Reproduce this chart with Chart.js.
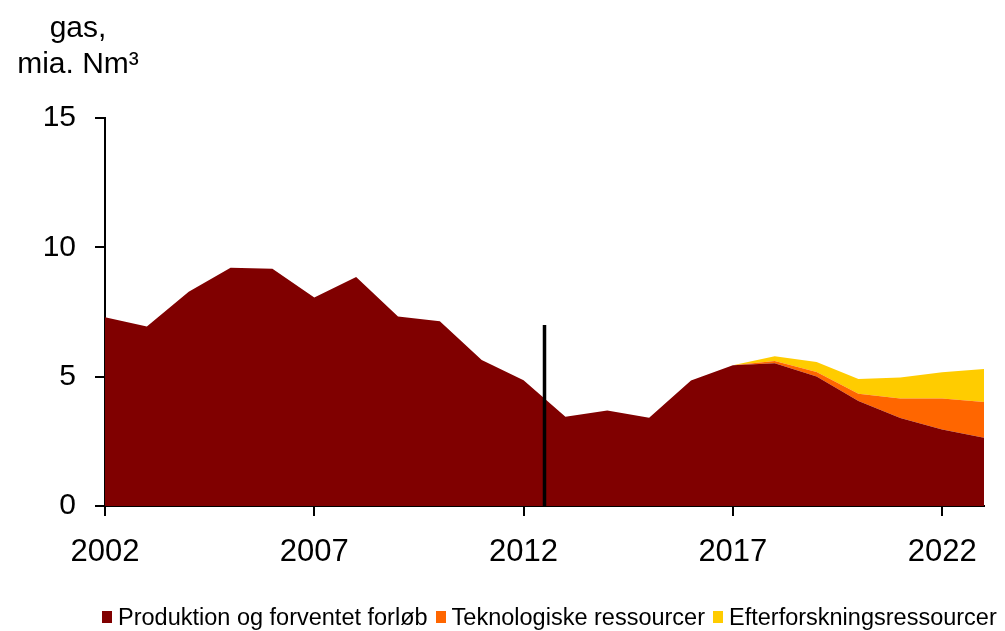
<!DOCTYPE html>
<html lang="da">
<head>
    <meta charset="UTF-8">
    <title>Gas, mia. Nm³</title>
    <script src="https://cdn.jsdelivr.net/npm/chart.js"></script>
    <style>
        body {
            margin: 0;
            background: #ffffff;
            font-family: "Liberation Sans", Arial, sans-serif;
        }
        .wrap {
            position: relative;
            width: 1005px;
            height: 631px;
        }
        .unit {
            position: absolute;
            left: -2px;
            top: 9px;
            width: 160px;
            text-align: center;
            font-size: 30px;
            line-height: 36px;
            color: #000;
        }
        .legend {
            position: absolute;
            left: 102px;
            top: 603px;
            display: flex;
            align-items: center;
            font-size: 23.5px;
            line-height: 28px;
            color: #000;
            white-space: nowrap;
        }
        .legend span.box {
            display: inline-block;
            width: 10px;
            height: 12px;
            margin-right: 6px;
        }
        .legend .item {
            display: flex;
            align-items: center;
            margin-right: 8px;
        }
    </style>
</head>
<body>
<div class="wrap">
    <canvas id="chart" width="1005" height="631"></canvas>
    <div class="unit">gas,<br>mia. Nm³</div>
    <div class="legend" id="legend"></div>
</div>

<script>
    // years on the x axis
    const years = [2002, 2003, 2004, 2005, 2006, 2007, 2008, 2009, 2010, 2011, 2012,
                   2013, 2014, 2015, 2016, 2017, 2018, 2019, 2020, 2021, 2022, 2023];

    // production and expected course
    const produktion = [7.30, 6.94, 8.28, 9.21, 9.17, 8.06, 8.85, 7.33, 7.14, 5.64, 4.86,
                        3.45, 3.69, 3.41, 4.85, 5.44, 5.52, 5.01, 4.06, 3.40, 2.96, 2.64];

    // technological resources (stacked on top)
    const teknologiske = [0, 0, 0, 0, 0, 0, 0, 0, 0, 0, 0,
                          0, 0, 0, 0, 0, 0.09, 0.17, 0.28, 0.76, 1.20, 1.38];

    // exploration resources (stacked on top)
    const efterforskning = [0, 0, 0, 0, 0, 0, 0, 0, 0, 0, 0,
                            0, 0, 0, 0, 0, 0.18, 0.39, 0.57, 0.81, 1.01, 1.28];

    const seriesNames = ['Produktion og forventet forløb', 'Teknologiske ressourcer', 'Efterforskningsressourcer'];
    const seriesColors = ['#800000', '#ff6600', '#ffcc00'];

    const xTicks = [2002, 2007, 2012, 2017, 2022];
    const yTicks = [0, 5, 10, 15];

    // vertical marker line (year, height)
    const markerX = [2012.5, 2012.5];
    const markerY = [0, 7];

    const toPoints = arr => arr.map((v, i) => ({ x: years[i], y: v }));

    const areaSet = (i, values, fill) => ({
        label: seriesNames[i],
        data: toPoints(values),
        backgroundColor: seriesColors[i],
        borderColor: seriesColors[i],
        borderWidth: 0,
        pointRadius: 0,
        tension: 0,
        fill: fill,
        stack: 'gas',
        order: 1
    });

    const ctx = document.getElementById('chart').getContext('2d');
    const chart = new Chart(ctx, {
        type: 'line',
        data: {
            datasets: [
                areaSet(0, produktion, 'origin'),
                areaSet(1, teknologiske, '-1'),
                areaSet(2, efterforskning, '-1'),
                {
                    label: 'marker',
                    data: markerX.map((x, i) => ({ x: x, y: markerY[i] })),
                    borderColor: '#000000',
                    borderWidth: 3.5,
                    pointRadius: 0,
                    fill: false,
                    stack: 'marker',
                    order: 0
                }
            ]
        },
        options: {
            responsive: false,
            animation: false,
            devicePixelRatio: 1,
            layout: { padding: { top: 118, right: 21, left: 0, bottom: 0 } },
            plugins: {
                legend: { display: false },
                tooltip: { enabled: false }
            },
            scales: {
                x: {
                    type: 'linear',
                    min: 2002,
                    max: 2023,
                    afterBuildTicks: axis => { axis.ticks = xTicks.map(v => ({ value: v })); },
                    afterFit: axis => { axis.height = 125; },
                    ticks: {
                        color: '#000',
                        padding: 18,
                        maxRotation: 0,
                        autoSkip: false,
                        font: { family: '"Liberation Sans", Arial, sans-serif', size: 31 },
                        callback: v => String(v)
                    },
                    grid: {
                        drawOnChartArea: false,
                        drawTicks: true,
                        tickLength: 10,
                        color: '#000',
                        lineWidth: 2
                    },
                    border: { display: true, color: '#000', width: 2 }
                },
                y: {
                    stacked: true,
                    min: 0,
                    max: 15,
                    afterBuildTicks: axis => { axis.ticks = yTicks.map(v => ({ value: v })); },
                    afterFit: axis => { axis.width = 105; },
                    ticks: {
                        color: '#000',
                        padding: 19,
                        font: { family: '"Liberation Sans", Arial, sans-serif', size: 30 }
                    },
                    grid: {
                        drawOnChartArea: false,
                        drawTicks: true,
                        tickLength: 10,
                        color: '#000',
                        lineWidth: 2
                    },
                    border: { display: true, color: '#000', width: 2 }
                }
            }
        }
    });

    // legend built from the chart's datasets
    const legend = document.getElementById('legend');
    chart.data.datasets.slice(0, 3).forEach(ds => {
        const item = document.createElement('div');
        item.className = 'item';
        const box = document.createElement('span');
        box.className = 'box';
        box.style.background = ds.backgroundColor;
        item.appendChild(box);
        item.appendChild(document.createTextNode(ds.label));
        legend.appendChild(item);
    });
</script>
</body>
</html>
